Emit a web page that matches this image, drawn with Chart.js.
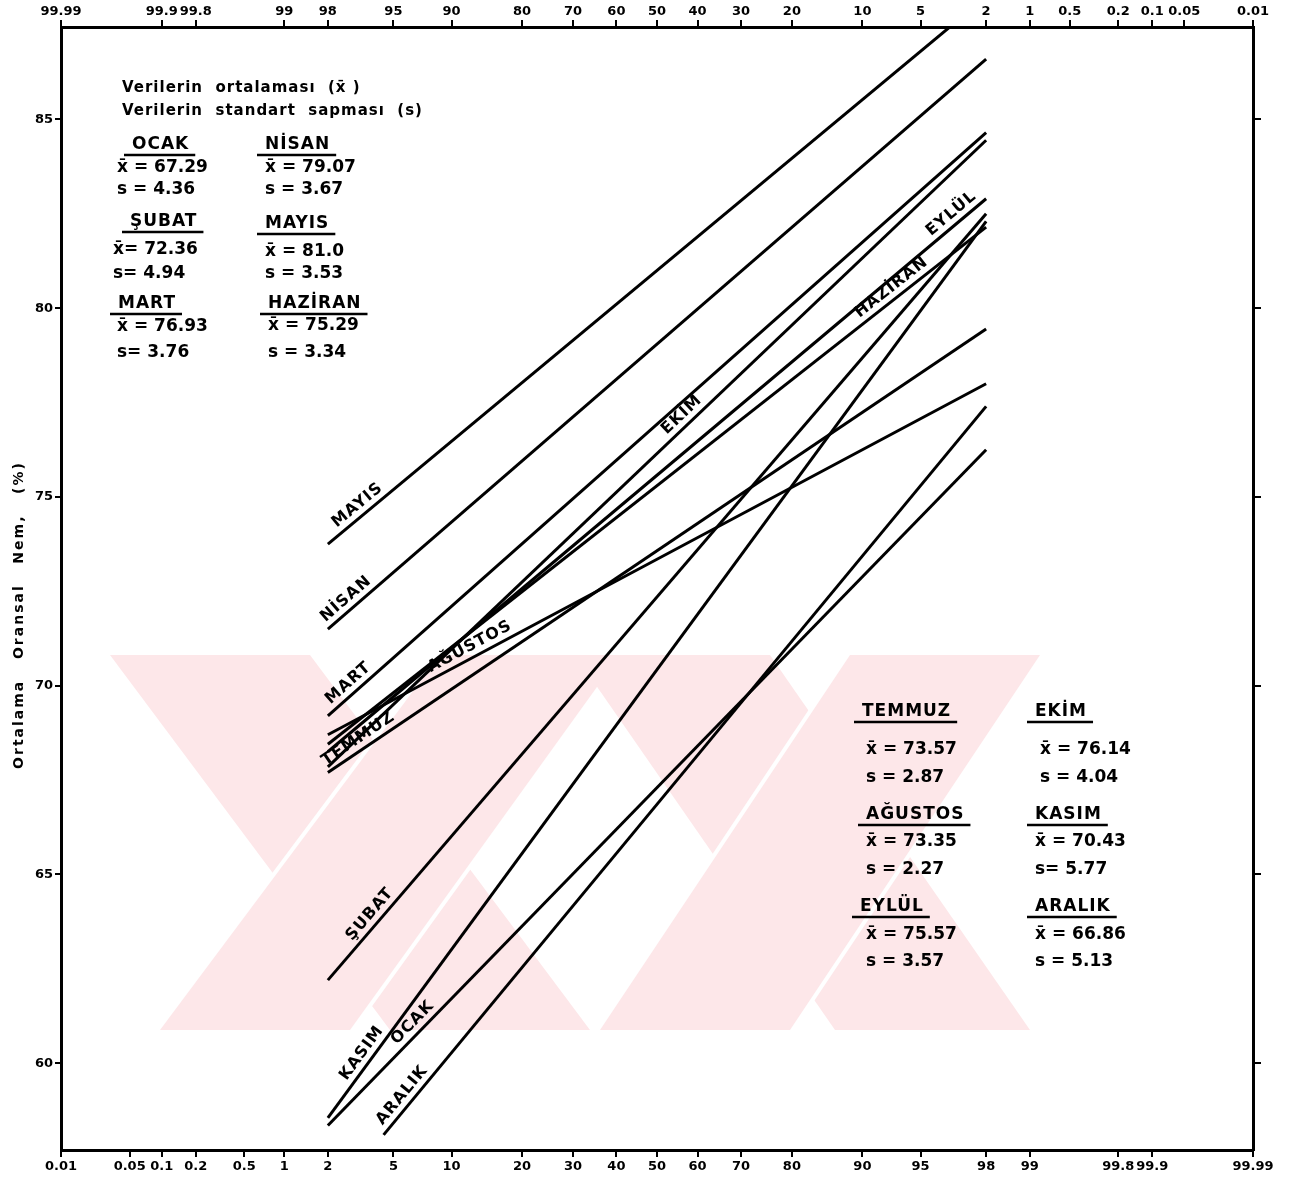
<!DOCTYPE html>
<html lang="tr">
<head>
<meta charset="UTF-8">
<title>Ortalama Oransal Nem</title>
<script src="https://cdn.jsdelivr.net/npm/chart.js@4.4.1/dist/chart.umd.min.js"></script>
<style>
    body { margin: 0; background: #fff; }
    #wrap { position: relative; width: 1308px; height: 1187px; }
</style>
</head>
<body>
<div id="wrap"><canvas id="chart"></canvas></div>
<script>
// month statistics as printed on the chart
const months = ['OCAK', 'ŞUBAT', 'MART', 'NİSAN', 'MAYIS', 'HAZİRAN', 'TEMMUZ', 'AĞUSTOS', 'EYLÜL', 'EKİM', 'KASIM', 'ARALIK'];
const meanText = ['x̄ = 67.29', 'x̄= 72.36', 'x̄ = 76.93', 'x̄ = 79.07', 'x̄ = 81.0', 'x̄ = 75.29', 'x̄ = 73.57', 'x̄ = 73.35', 'x̄ = 75.57', 'x̄ = 76.14', 'x̄ = 70.43', 'x̄ = 66.86'];
const sdText = ['s = 4.36', 's= 4.94', 's= 3.76', 's = 3.67', 's = 3.53', 's = 3.34', 's = 2.87', 's = 2.27', 's = 3.57', 's = 4.04', 's= 5.77', 's = 5.13'];

// line end points (probability %, humidity %)
const startPct = [2, 2, 2, 2, 2, 2, 2, 2, 2, 2, 2, 4.4];
const startVal = [58.35, 62.2, 69.2, 71.5, 73.75, 68.45, 67.7, 68.7, 68.25, 67.85, 58.55, 58.1];
const endPct = [98, 98, 98, 98, 98, 98, 98, 98, 98, 98, 98, 98];
const endVal = [76.25, 82.5, 84.65, 86.6, 88.25, 82.15, 79.45, 78.0, 82.9, 84.45, 82.3, 77.4];
// where along each line the month name sits (probability %)
const labelPct = [7.0, 4.1, 3.0, 2.9, 3.4, 93.4, 3.4, 12.8, 97.0, 58, 3.7, 6.2];

const bottomTicks = [0.01, 0.05, 0.1, 0.2, 0.5, 1, 2, 5, 10, 20, 30, 40, 50, 60, 70, 80, 90, 95, 98, 99, 99.8, 99.9, 99.99];
const topTicks = [99.99, 99.9, 99.8, 99, 98, 95, 90, 80, 70, 60, 50, 40, 30, 20, 10, 5, 2, 1, 0.5, 0.2, 0.1, 0.05, 0.01];
const yTicks = [60, 65, 70, 75, 80, 85];

const FONT = 'DejaVu Sans';

// normal probability paper: percent -> standard normal deviate (Acklam)
function probit(pc) {
    const p = pc / 100;
    const a = [-3.969683028665376e+01, 2.209460984245205e+02, -2.759285104469687e+02, 1.383577518672690e+02, -3.066479806614716e+01, 2.506628277459239e+00];
    const b = [-5.447609879822406e+01, 1.615858368580409e+02, -1.556989798598866e+02, 6.680131188771972e+01, -1.328068155288572e+01];
    const c = [-7.784894002430293e-03, -3.223964580411365e-01, -2.400758277161838e+00, -2.549671348908846e+00, 4.374664141464968e+00, 2.938163982698783e+00];
    const d = [7.784695709041462e-03, 3.224671290700398e-01, 2.445134137142996e+00, 3.754408661907416e+00];
    const pl = 0.02425;
    let q, r;
    if (p < pl) {
        q = Math.sqrt(-2 * Math.log(p));
        return (((((c[0] * q + c[1]) * q + c[2]) * q + c[3]) * q + c[4]) * q + c[5]) / ((((d[0] * q + d[1]) * q + d[2]) * q + d[3]) * q + 1);
    }
    if (p > 1 - pl) {
        q = Math.sqrt(-2 * Math.log(1 - p));
        return -(((((c[0] * q + c[1]) * q + c[2]) * q + c[3]) * q + c[4]) * q + c[5]) / ((((d[0] * q + d[1]) * q + d[2]) * q + d[3]) * q + 1);
    }
    q = p - 0.5; r = q * q;
    return (((((a[0] * r + a[1]) * r + a[2]) * r + a[3]) * r + a[4]) * r + a[5]) * q / (((((b[0] * r + b[1]) * r + b[2]) * r + b[3]) * r + b[4]) * r + 1);
}

const datasets = months.map((m, i) => ({
    label: m,
    data: [
        { x: probit(startPct[i]), y: startVal[i] },
        { x: probit(endPct[i]), y: endVal[i] }
    ],
    borderColor: '#000',
    borderWidth: 3,
    pointRadius: 0,
    tension: 0
}));

// pale pink thesis watermark behind the lines
const watermark = {
    id: 'watermark',
    beforeDatasetsDraw(chart) {
        const ctx = chart.ctx;
        const arms = [
            [[110, 655], [310, 655], [590, 1030], [390, 1030]],
            [[440, 655], [620, 655], [350, 1030], [160, 1030]],
            [[575, 655], [770, 655], [1030, 1030], [835, 1030]],
            [[850, 655], [1040, 655], [790, 1030], [600, 1030]]
        ];
        ctx.save();
        ctx.fillStyle = '#fde7e9';
        ctx.strokeStyle = '#fff';
        ctx.lineWidth = 8;
        arms.forEach((poly, k) => {
            ctx.beginPath();
            poly.forEach(([x, y], j) => j ? ctx.lineTo(x, y) : ctx.moveTo(x, y));
            ctx.closePath();
            if (k % 2) ctx.stroke();
            ctx.fill();
        });
        ctx.restore();
    }
};

// month names written along the lines
const lineLabels = {
    id: 'lineLabels',
    afterDatasetsDraw(chart) {
        const ctx = chart.ctx;
        const xs = chart.scales.x, ys = chart.scales.y;
        ctx.save();
        ctx.fillStyle = '#000';
        ctx.font = 'bold 16px "' + FONT + '"';
        ctx.letterSpacing = '1px';
        ctx.textAlign = 'center';
        ctx.textBaseline = 'bottom';
        months.forEach((m, i) => {
            const z1 = probit(startPct[i]), z2 = probit(endPct[i]);
            const x1 = xs.getPixelForValue(z1), y1 = ys.getPixelForValue(startVal[i]);
            const x2 = xs.getPixelForValue(z2), y2 = ys.getPixelForValue(endVal[i]);
            const t = (probit(labelPct[i]) - z1) / (z2 - z1);
            ctx.save();
            ctx.translate(x1 + t * (x2 - x1), y1 + t * (y2 - y1));
            ctx.rotate(Math.atan2(y2 - y1, x2 - x1));
            ctx.fillText(m, 0, -3);
            ctx.restore();
        });
        ctx.restore();
    }
};

// statistics blocks (mean and standard deviation per month)
const statBlocks = [
    { i: 0, hx: 132, hy: 145, vx: 117, vy: [168, 190] },
    { i: 1, hx: 130, hy: 222, vx: 113, vy: [250, 274] },
    { i: 2, hx: 118, hy: 304, vx: 117, vy: [327, 353] },
    { i: 3, hx: 265, hy: 145, vx: 265, vy: [168, 190] },
    { i: 4, hx: 265, hy: 224, vx: 265, vy: [252, 274] },
    { i: 5, hx: 268, hy: 304, vx: 268, vy: [326, 353] },
    { i: 6, hx: 862, hy: 712, vx: 866, vy: [750, 778] },
    { i: 7, hx: 866, hy: 815, vx: 866, vy: [842, 870] },
    { i: 8, hx: 860, hy: 907, vx: 866, vy: [935, 962] },
    { i: 9, hx: 1035, hy: 712, vx: 1040, vy: [750, 778] },
    { i: 10, hx: 1035, hy: 815, vx: 1035, vy: [842, 870] },
    { i: 11, hx: 1035, hy: 907, vx: 1035, vy: [935, 962] }
];

const statsText = {
    id: 'statsText',
    afterDraw(chart) {
        const ctx = chart.ctx;
        ctx.save();
        ctx.fillStyle = '#000';
        ctx.strokeStyle = '#000';
        ctx.textAlign = 'left';
        ctx.textBaseline = 'middle';
        ctx.font = 'bold 15px "' + FONT + '"';
        ctx.letterSpacing = '1px';
        ctx.fillText('Verilerin  ortalaması  (x̄ )', 122, 88);
        ctx.fillText('Verilerin  standart  sapması  (s)', 122, 111);
        ctx.font = 'bold 17px "' + FONT + '"';
        statBlocks.forEach(b => {
            ctx.letterSpacing = '1px';
            const w = ctx.measureText(months[b.i]).width;
            ctx.fillText(months[b.i], b.hx, b.hy);
            ctx.lineWidth = 2.5;
            ctx.beginPath();
            ctx.moveTo(b.hx - 8, b.hy + 10);
            ctx.lineTo(b.hx + w + 6, b.hy + 10);
            ctx.stroke();
            ctx.letterSpacing = '0px';
            ctx.fillText(meanText[b.i], b.vx, b.vy[0]);
            ctx.fillText(sdText[b.i], b.vx, b.vy[1]);
        });

        // y axis title, widely spaced as on the original sheet
        ctx.save();
        ctx.translate(19, 615);
        ctx.rotate(-Math.PI / 2);
        ctx.textAlign = 'center';
        ctx.font = 'bold 14px "' + FONT + '"';
        ctx.letterSpacing = '2px';
        ctx.fillText('Ortalama   Oransal   Nem,   (%)', 0, 0);
        ctx.restore();
        ctx.restore();
    }
};

const tickFont = { family: FONT, size: 13, weight: 'bold' };
const axisGrid = { display: true, drawOnChartArea: false, drawTicks: true, tickLength: 7, color: '#000', lineWidth: 2 };
const axisBorder = { display: true, color: '#000', width: 3 };
const zMin = probit(0.01), zMax = probit(99.99);

new Chart(document.getElementById('chart'), {
    type: 'line',
    data: { datasets: datasets },
    options: {
        responsive: true,
        maintainAspectRatio: false,
        animation: false,
        layout: { padding: 0 },
        plugins: {
            legend: { display: false },
            tooltip: { enabled: false }
        },
        scales: {
            x: {
                type: 'linear',
                position: 'bottom',
                min: zMin,
                max: zMax,
                afterBuildTicks: s => { s.ticks = bottomTicks.map(p => ({ value: probit(p) })); },
                afterFit: s => { s.height = 37; },
                ticks: { autoSkip: false, maxRotation: 0, padding: 2, color: '#000', font: tickFont,
                    callback: (v, i) => String(bottomTicks[i]) },
                grid: axisGrid,
                border: axisBorder
            },
            xTop: {
                type: 'linear',
                position: 'top',
                min: zMin,
                max: zMax,
                afterBuildTicks: s => { s.ticks = topTicks.map(p => ({ value: probit(100 - p) })); },
                afterFit: s => { s.height = 27; },
                ticks: { autoSkip: false, maxRotation: 0, padding: 1, color: '#000', font: tickFont,
                    callback: (v, i) => String(topTicks[i]) },
                grid: axisGrid,
                border: axisBorder
            },
            y: {
                type: 'linear',
                position: 'left',
                min: 57.7,
                max: 87.45,
                afterBuildTicks: s => { s.ticks = yTicks.map(v => ({ value: v })); },
                afterFit: s => { s.width = 61; },
                ticks: { padding: 2, color: '#000', font: tickFont },
                grid: Object.assign({}, axisGrid, { tickLength: 6 }),
                border: axisBorder
            },
            y2: {
                type: 'linear',
                position: 'right',
                min: 57.7,
                max: 87.45,
                afterBuildTicks: s => { s.ticks = yTicks.map(v => ({ value: v })); },
                afterFit: s => { s.width = 55; },
                ticks: { color: '#000', font: tickFont, callback: () => '' },
                grid: Object.assign({}, axisGrid, { tickLength: 8 }),
                border: axisBorder
            }
        }
    },
    plugins: [watermark, lineLabels, statsText]
});
</script>
</body>
</html>
